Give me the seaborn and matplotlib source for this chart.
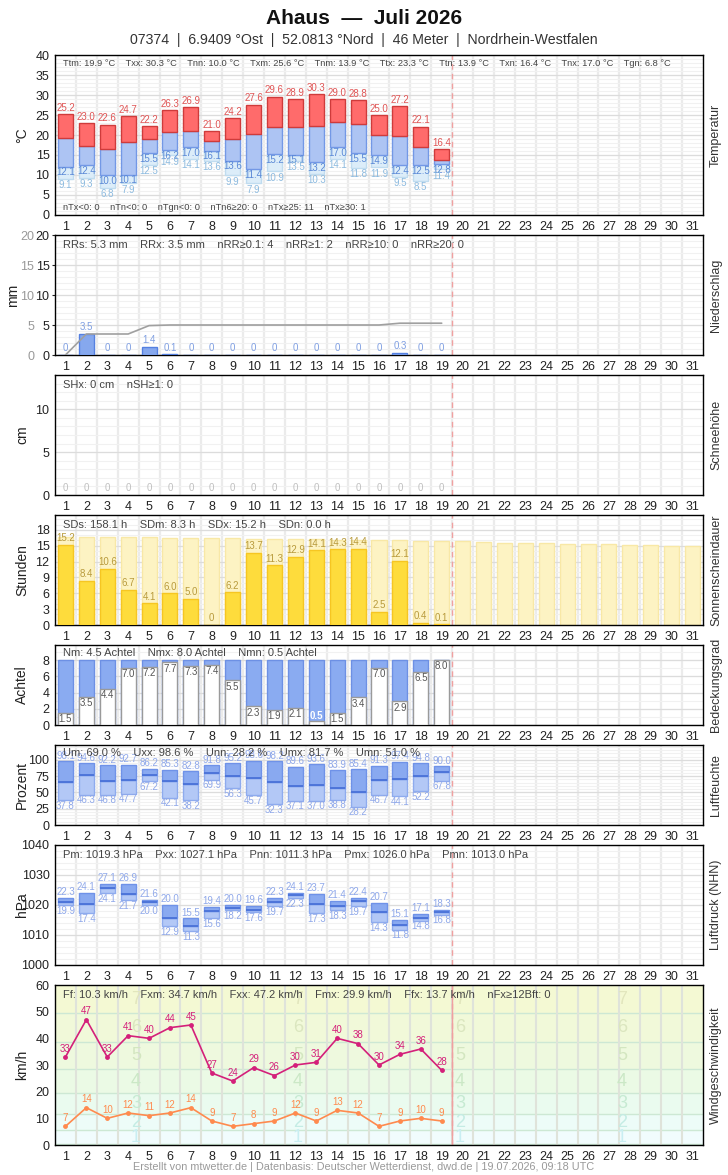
import numpy as np
import matplotlib
matplotlib.use("Agg")
import matplotlib.pyplot as plt
import matplotlib.transforms as mtrans
import seaborn as sns

# ---- data (Ahaus, Juli 2026, days 1-19 measured) ----
days = np.arange(1, 20)
all_days = np.arange(1, 32)

t_max = [25.2, 23.0, 22.6, 24.7, 22.2, 26.3, 26.9, 21.0, 24.2, 27.6, 29.6, 28.9, 30.3, 29.0, 28.8, 25.0, 27.2, 22.1, 16.4]
t_mean = [19.2, 17.3, 16.6, 18.2, 18.9, 20.7, 20.9, 18.4, 18.9, 20.2, 21.9, 22.1, 22.2, 23.2, 22.8, 19.9, 19.8, 16.9, 13.8]
t_min = [12.1, 12.4, 10.0, 10.1, 15.5, 16.2, 17.0, 16.1, 13.6, 11.4, 15.2, 15.1, 13.2, 17.0, 15.5, 14.9, 12.4, 12.5, 12.8]
t_ground = [9.1, 9.3, 6.8, 7.9, 12.5, 14.9, 14.1, 13.6, 9.9, 7.9, 10.9, 13.5, 10.3, 14.1, 11.8, 11.9, 9.5, 8.5, 11.4]

precip = [0, 3.5, 0, 0, 1.4, 0.1, 0, 0, 0, 0, 0, 0, 0, 0, 0, 0, 0.3, 0, 0]
snow = [0] * 19

sun = [15.2, 8.4, 10.6, 6.7, 4.1, 6.0, 5.0, 0, 6.2, 13.7, 11.3, 12.9, 14.1, 14.3, 14.4, 2.5, 12.1, 0.4, 0.1]
sun_possible = [16.7, 16.7, 16.6, 16.6, 16.6, 16.5, 16.5, 16.4, 16.4, 16.3, 16.3, 16.2, 16.2, 16.1, 16.1, 16.0,
                16.0, 15.9, 15.8, 15.8, 15.7, 15.6, 15.6, 15.5, 15.4, 15.3, 15.3, 15.2, 15.1, 15.0, 14.9]

cloud = [1.5, 3.5, 4.4, 7.0, 7.2, 7.7, 7.3, 7.4, 5.5, 2.3, 1.9, 2.1, 0.5, 1.5, 3.4, 7.0, 2.9, 6.5, 8.0]

hum_max = [98.1, 94.6, 92.2, 92.7, 86.2, 85.3, 82.8, 91.8, 95.2, 98.6, 98.2, 89.6, 93.6, 83.9, 85.4, 91.3, 97.4, 94.8, 90.0]
hum_mean = [65.7, 76.9, 67.2, 68.7, 76.9, 67.2, 62.6, 79.5, 74.9, 71.8, 65.7, 59.5, 61.5, 56.4, 50.3, 68.7, 70.3, 74.9, 81.0]
hum_min = [37.8, 46.3, 46.8, 47.7, 67.2, 42.1, 38.2, 69.9, 56.3, 45.7, 32.3, 37.1, 37.0, 38.8, 28.2, 46.7, 44.1, 52.2, 67.8]

p_max = [1022.3, 1024.1, 1027.1, 1026.9, 1021.6, 1020.0, 1015.5, 1019.4, 1020.0, 1019.6, 1022.3, 1024.1, 1023.7,
         1021.4, 1022.4, 1020.7, 1015.1, 1017.1, 1018.3]
p_mean = [1021.0, 1020.2, 1025.6, 1023.6, 1021.0, 1015.6, 1013.0, 1018.0, 1019.1, 1018.4, 1020.9, 1023.3, 1020.2,
          1019.8, 1021.2, 1017.8, 1013.2, 1015.8, 1017.7]
p_min = [1019.9, 1017.4, 1024.1, 1021.7, 1020.0, 1012.9, 1011.3, 1015.6, 1018.2, 1017.6, 1019.7, 1022.3, 1017.3,
         1018.3, 1019.7, 1014.3, 1011.8, 1014.8, 1016.8]

gust = [33, 47, 33, 41, 40, 44, 45, 27, 24, 29, 26, 30, 31, 40, 38, 30, 34, 36, 28]
wind = [7, 14, 10, 12, 11, 12, 14, 9, 7, 8, 9, 12, 9, 13, 12, 7, 9, 10, 9]

bft_edges = [0, 0.5, 5.5, 11.5, 19.5, 28.5, 38.5, 49.5, 61.5]
bft_fill = ["#f4fdfd", "#f1fcfd", "#edfcf8", "#eafbef", "#ebfae5", "#eef9de", "#f1f9d9", "#f4f9d3"]
bft_text = ["#d8f2f4", "#c9eef2", "#c4ece4", "#c6ead2", "#cbe8c6", "#d3e6c0", "#dbe6bf", "#e2e6bd"]

stats_temp = ["Ttm: 19.9 °C", "Txx: 30.3 °C", "Tnn: 10.0 °C", "Txm: 25.6 °C", "Tnm: 13.9 °C",
              "Ttx: 23.3 °C", "Ttn: 13.9 °C", "Txn: 16.4 °C", "Tnx: 17.0 °C", "Tgn: 6.8 °C"]
stats_temp2 = ["nTx<0: 0", "nTn<0: 0", "nTgn<0: 0", "nTn6≥20: 0", "nTx≥25: 11", "nTx≥30: 1"]
stats_rr = ["RRs: 5.3 mm", "RRx: 3.5 mm", "nRR≥0.1: 4", "nRR≥1: 2", "nRR≥10: 0", "nRR≥20: 0"]
stats_sh = ["SHx: 0 cm", "nSH≥1: 0"]
stats_sd = ["SDs: 158.1 h", "SDm: 8.3 h", "SDx: 15.2 h", "SDn: 0.0 h"]
stats_n = ["Nm: 4.5 Achtel", "Nmx: 8.0 Achtel", "Nmn: 0.5 Achtel"]
stats_u = ["Um: 69.0 %", "Uxx: 98.6 %", "Unn: 28.2 %", "Umx: 81.7 %", "Umn: 51.0 %"]
stats_p = ["Pm: 1019.3 hPa", "Pxx: 1027.1 hPa", "Pnn: 1011.3 hPa", "Pmx: 1026.0 hPa", "Pmn: 1013.0 hPa"]
stats_f = ["Ff: 10.3 km/h", "Fxm: 34.7 km/h", "Fxx: 47.2 km/h", "Fmx: 29.9 km/h", "Ffx: 13.7 km/h", "nFx≥12Bft: 0"]

# ---- setup ----
sns.set_theme(style="white")
plt.rcParams['font.family'] = ['Liberation Sans', 'DejaVu Sans']
NARROW = ['Liberation Sans Narrow', 'Liberation Sans', 'DejaVu Sans']

W, H = 728, 1175
fig = plt.figure(figsize=(W / 100, H / 100), dpi=100)
fig.patch.set_facecolor("white")
BW = 0.72


def panel(top, bottom, ylim, yticks, minor, ylabel, rlabel, hgrid=True, ylab_x=22):
    ax = fig.add_axes([55 / W, 1 - bottom / H, 648 / W, (bottom - top) / H])
    ax.set_facecolor("white")
    ax.set_xlim(0.5, 31.5)
    ax.set_ylim(*ylim)
    ax.set_xticks(all_days)
    ax.set_xticklabels([str(d) for d in all_days], family=NARROW)
    ax.set_yticks(yticks)
    ax.set_yticklabels([str(t) for t in yticks], family=NARROW)
    ax.tick_params(axis="both", labelsize=9, colors="#222", length=2, pad=2, width=0.8)
    ax.tick_params(axis="x", length=0, pad=4)
    for s in ax.spines.values():
        s.set_color("black")
        s.set_linewidth(1)
    for v in np.arange(1.5, 31.5, 1):
        ax.axvline(v, color="#ebebeb", lw=1.6, zorder=0)
    if hgrid:
        if minor:
            for v in np.arange(ylim[0], ylim[1], minor):
                ax.axhline(v, color="#f1f1f1", lw=0.8, zorder=0)
        for v in yticks:
            ax.axhline(v, color="#dcdcdc", lw=0.9, zorder=0)
    ax.axvline(19.5, color="#f0a0a0", ls=(0, (4, 3)), lw=1, zorder=1)
    cy = 1 - (top + bottom) / 2 / H
    fig.text(ylab_x / W, cy, ylabel, rotation=90, ha="center", va="center", fontsize=10, color="#222")
    fig.text(716 / W, cy, rlabel, rotation=90, ha="center", va="center", fontsize=9, color="#333")
    return ax


def stats(ax, items, y, size=8):
    ax.text(0.012, y, "    ".join(items), transform=ax.transAxes, fontsize=size, color="#444",
            va="center", ha="left", zorder=6)


# ---- title ----
fig.text(0.5, 1 - 18 / H, "Ahaus  —  Juli 2026", ha="center", va="center", fontsize=15,
         fontweight="bold", family=NARROW, color="#111")
fig.text(0.5, 1 - 40 / H, "07374  |  6.9409 °Ost  |  52.0813 °Nord  |  46 Meter  |  Nordrhein-Westfalen",
         ha="center", va="center", fontsize=10.2, family=NARROW, color="#333")
fig.text(0.5, 1 - 1167 / H,
         "Erstellt von mtwetter.de | Datenbasis: Deutscher Wetterdienst, dwd.de | 19.07.2026, 09:18 UTC",
         ha="center", va="center", fontsize=7.8, family=NARROW, color="#999")

# ---- temperature ----
ax = panel(55, 215, (0, 40), [0, 5, 10, 15, 20, 25, 30, 35, 40], 1, "°C", "Temperatur")
tmx, tme, tmn, tgr = map(np.array, (t_max, t_mean, t_min, t_ground))
ax.bar(days, tmn - tgr, bottom=tgr, width=BW, color="#dcedf9", edgecolor="#c0dcef", lw=1, zorder=2)
ax.bar(days, tme - tmn, bottom=tmn, width=BW, color="#adc4f3", edgecolor="#7398e6", lw=1, zorder=3)
ax.bar(days, tmx - tme, bottom=tme, width=BW, color="#ff6b6b", edgecolor="#cf3b3b", lw=1, zorder=3)
for d, a, b, c in zip(days, tmx, tmn, tgr):
    ax.text(d, a + 0.3, f"{a:.1f}", ha="center", va="bottom", fontsize=7, color="#e05555", zorder=5)
    ax.text(d, b - 0.2, f"{b:.1f}", ha="center", va="top", fontsize=7, color="#5a88d6", zorder=5)
    ax.text(d, c - 0.3, f"{c:.1f}", ha="center", va="top", fontsize=7, color="#8dbbe0", zorder=5)
stats(ax, stats_temp, 0.945, 6.7)
stats(ax, stats_temp2, 0.045, 6.7)

# ---- precipitation ----
ax = panel(235, 355, (0, 20), [0, 5, 10, 15, 20], 1, "mm", "Niederschlag", ylab_x=13)
sns.barplot(x=days, y=precip, native_scale=True, width=BW, color="#86a8ee", edgecolor="#5580e0",
            linewidth=1, saturation=1, errorbar=None, ax=ax, zorder=3)
sns.lineplot(x=days, y=np.cumsum(precip), color="#a0a0a0", lw=1.2, ax=ax, zorder=4)
for d, v in zip(days, precip):
    ax.text(d, v + 0.3, f"{v:.1f}" if v > 0 else "0", ha="center", va="bottom", fontsize=7,
            color="#7f9fe2", zorder=5)
ax.set_xlim(0.5, 31.5)
ax.set_ylim(0, 20)
ax.set_xlabel("")
tw = ax.twinx()
tw.set_ylim(0, 20)
tw.yaxis.tick_left()
tw.set_yticks([0, 5, 10, 15, 20])
tw.set_yticklabels(["0", "5", "10", "15", "20"], family=NARROW)
tw.tick_params(axis="y", labelsize=9, labelcolor="#999", length=0, pad=15)
for s in tw.spines.values():
    s.set_visible(False)
stats(ax, stats_rr, 0.915, 8)

# ---- snow ----
ax = panel(375, 495, (0, 14), [0, 5, 10], 1, "cm", "Schneehöhe")
for d, v in zip(days, snow):
    ax.text(d, 0.25, f"{v}", ha="center", va="bottom", fontsize=7, color="#c0c0c0", zorder=5)
stats(ax, stats_sh, 0.915, 8)

# ---- sunshine ----
ax = panel(515, 625, (0, 20.8), [0, 3, 6, 9, 12, 15, 18], 1, "Stunden", "Sonnenscheindauer")
sns.barplot(x=all_days, y=sun_possible, native_scale=True, width=BW, color="#fdf3c3", edgecolor="#f8e8a6",
            linewidth=1, saturation=1, errorbar=None, ax=ax, zorder=2)
sns.barplot(x=days, y=sun, native_scale=True, width=BW, color="#fedc3c", edgecolor="#f6c622",
            linewidth=1, saturation=1, errorbar=None, ax=ax, zorder=3)
for d, v in zip(days, sun):
    ax.text(d, v + 0.3, f"{v:.1f}" if v > 0 else "0", ha="center", va="bottom", fontsize=7,
            color="#b89a3c", zorder=5)
ax.set_xlim(0.5, 31.5)
ax.set_ylim(0, 20.8)
ax.set_xlabel("")
stats(ax, stats_sd, 0.905, 8)

# ---- cloud cover ----
ax = panel(645, 725, (0, 9.85), [0, 2, 4, 6, 8], 1, "Achtel", "Bedeckungsgrad")
ax.bar(days, [8] * len(days), width=BW, color="#8aabf1", edgecolor="#6d90e4", lw=1, zorder=2)
ax.bar(days, cloud, width=BW, color="white", edgecolor="#9a9a9a", lw=1, zorder=3)
for d, v in zip(days, cloud):
    if v < 1:
        ax.text(d, v + 0.05, f"{v:.1f}", ha="center", va="bottom", fontsize=7, color="white",
                fontweight="bold", zorder=5)
    else:
        ax.text(d, v - 0.15, f"{v:.1f}", ha="center", va="top", fontsize=7, color="#555", zorder=5)
stats(ax, stats_n, 0.9, 8)

# ---- humidity ----
ax = panel(745, 825, (0, 123), [0, 25, 50, 75, 100], 5, "Prozent", "Luftfeuchte")
umx, ume, umn = map(np.array, (hum_max, hum_mean, hum_min))
ax.bar(days, ume - umn, bottom=umn, width=BW, color="#b3c8f6", edgecolor="#8eabee", lw=1, zorder=2)
ax.bar(days, umx - ume, bottom=ume, width=BW, color="#89a9f0", edgecolor="#6f92e8", lw=1, zorder=3)
ax.hlines(ume, days - BW / 2, days + BW / 2, color="#4a72d8", lw=1.3, zorder=4)
for d, a, c in zip(days, umx, umn):
    ax.text(d, a + 0.8, f"{a:.1f}", ha="center", va="bottom", fontsize=7, color="#8fa8ea", zorder=5)
    ax.text(d, c - 0.8, f"{c:.1f}", ha="center", va="top", fontsize=7, color="#8fa8ea", zorder=5)
stats(ax, stats_u, 0.9, 8)

# ---- pressure ----
ax = panel(845, 965, (1000, 1040), [1000, 1010, 1020, 1030, 1040], 2, "hPa", "Luftdruck (NHN)")
pmx, pme, pmn = map(np.array, (p_max, p_mean, p_min))
ax.bar(days, pme - pmn, bottom=pmn, width=BW, color="#b3c8f6", edgecolor="#8eabee", lw=1, zorder=2)
ax.bar(days, pmx - pme, bottom=pme, width=BW, color="#89a9f0", edgecolor="#6f92e8", lw=1, zorder=3)
ax.hlines(pme, days - BW / 2, days + BW / 2, color="#4a72d8", lw=1.3, zorder=4)
for d, a, c in zip(days, pmx, pmn):
    ax.text(d, a + 0.3, f"{a - 1000:.1f}", ha="center", va="bottom", fontsize=7, color="#8fa8ea", zorder=5)
    ax.text(d, c - 0.3, f"{c - 1000:.1f}", ha="center", va="top", fontsize=7, color="#8fa8ea", zorder=5)
stats(ax, stats_p, 0.915, 8)

# ---- wind ----
ax = panel(985, 1145, (0, 60), [0, 10, 20, 30, 40, 50, 60], None, "km/h", "Windgeschwindigkeit", hgrid=False)
for i in range(8):
    ax.axhspan(bft_edges[i], bft_edges[i + 1], color=bft_fill[i], zorder=-1, lw=0)
for e in bft_edges[1:-1]:
    ax.axhline(e, color="#cde8d4", lw=1, zorder=0.5)
for v in np.arange(1.5, 31.5, 1):
    ax.axvline(v, color="#dfe3da", lw=1.4, zorder=0.6)
ax.axvline(19.5, color="#f0a0a0", ls="-", lw=1, zorder=1)
trans = mtrans.blended_transform_factory(ax.transAxes, ax.transData)
for b in range(1, 8):
    yc = (bft_edges[b] + min(bft_edges[b + 1], 60)) / 2
    for xf in (1 / 8, 3 / 8, 5 / 8, 7 / 8):
        ax.text(xf, yc, str(b), transform=trans, ha="center", va="center", fontsize=13,
                color=bft_text[b], zorder=0.8)
sns.lineplot(x=days, y=gust, color="#d4207a", lw=1.2, marker="o", markersize=3.5,
             markeredgewidth=0, ax=ax, zorder=4)
sns.lineplot(x=days, y=wind, color="#ff8a4e", lw=1.2, marker="o", markersize=3.5,
             markeredgewidth=0, ax=ax, zorder=4)
for d, g, f in zip(days, gust, wind):
    ax.text(d, g + 1.2, str(g), ha="center", va="bottom", fontsize=7, color="#d4207a", zorder=5)
    ax.text(d, f + 1.2, str(f), ha="center", va="bottom", fontsize=7, color="#ff8a4e", zorder=5)
ax.set_xlim(0.5, 31.5)
ax.set_ylim(0, 60)
stats(ax, stats_f, 0.94, 8)

fig.savefig("out.png", dpi=100, facecolor="white")
